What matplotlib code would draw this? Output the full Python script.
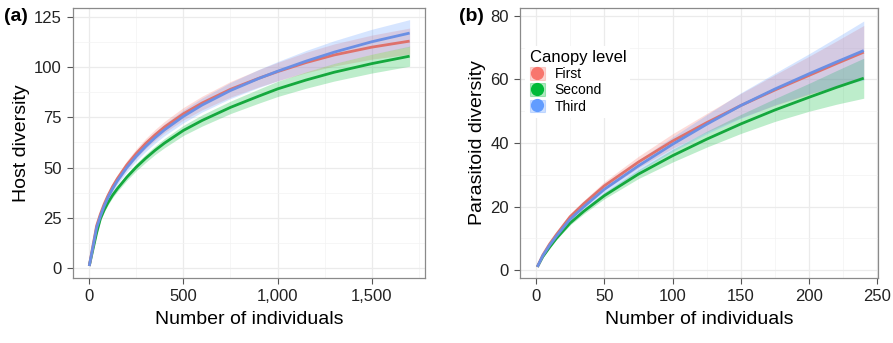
import matplotlib
matplotlib.use("Agg")
import matplotlib.pyplot as plt
from matplotlib.patches import Patch
from matplotlib.lines import Line2D
from matplotlib.ticker import FuncFormatter, MultipleLocator
import numpy as np

plt.rcParams['font.family'] = ['Liberation Sans', 'DejaVu Sans']

levels = ["First", "Second", "Third"]
fill_colors = {"First": "#F8766D", "Second": "#00BA38", "Third": "#619CFF"}
line_colors = {"First": "#DE716B", "Second": "#14A83D", "Third": "#6B8FE4"}

# Panel (a): host diversity (rarefaction curves) and CI half-widths
x_a = [1, 40, 60, 80, 100, 125, 150, 200, 250, 300, 350, 400, 500, 600, 750, 900, 1000, 1150, 1300, 1500, 1700]
host_first = [1, 21, 26.8, 31.8, 36, 40.6, 44.5, 51.3, 57, 62, 66.3, 70.2, 76.8, 82.2, 89, 94.5, 97.8, 102.3, 106.1, 110, 113]
host_second = [1, 17.5, 24.5, 28.9, 32.5, 36.3, 39.5, 45.2, 50.2, 54.6, 58.6, 62.2, 68.5, 73.5, 80, 85.6, 89.2, 93.6, 97.5, 101.8, 105.5]
host_third = [1, 20, 25.8, 30.8, 35, 39.5, 43.4, 50, 55.6, 60.5, 64.9, 68.8, 75.5, 81.2, 88.4, 94.4, 98, 103, 107.5, 112.7, 117]
host_first_hw = [0, 1, 1.2, 1.4, 1.5, 1.7, 1.9, 2.1, 2.3, 2.5, 2.7, 2.8, 3.1, 3.4, 3.9, 4.3, 4.6, 5.1, 5.5, 6, 6.5]
host_second_hw = [0, 0.8, 0.9, 1, 1.1, 1.2, 1.4, 1.6, 1.8, 2, 2.1, 2.3, 2.5, 2.8, 3.1, 3.5, 3.8, 4.1, 4.4, 4.7, 5]
host_third_hw = [0, 1, 1.2, 1.4, 1.5, 1.7, 1.9, 2.1, 2.3, 2.5, 2.7, 2.9, 3.2, 3.5, 4, 4.5, 4.8, 5.3, 5.7, 6.2, 6.7]

# Panel (b): parasitoid diversity and CI half-widths
x_b = [1, 5, 10, 15, 25, 35, 50, 75, 100, 125, 150, 175, 200, 220, 240]
para_first = [1, 4.7, 8.2, 11.2, 16.8, 20.9, 26.5, 34, 40.6, 46.4, 51.8, 56.7, 61.3, 65, 68.6]
para_second = [1, 4.2, 7.2, 10, 14.8, 18.5, 23.4, 30.2, 36, 41.2, 46, 50.4, 54.4, 57.5, 60.4]
para_third = [1, 4.5, 7.8, 10.7, 16, 19.9, 25.4, 32.8, 39.6, 45.9, 51.8, 57, 61.8, 65.5, 69.1]
para_first_hw = [0, 0.2, 0.4, 0.55, 0.8, 1, 1.3, 1.8, 2.3, 2.9, 3.8, 4.8, 6, 7.1, 8.4]
para_second_hw = [0, 0.15, 0.3, 0.4, 0.6, 0.8, 1, 1.4, 2, 2.5, 3, 3.6, 4.4, 5.3, 6.3]
para_third_hw = [0, 0.2, 0.4, 0.55, 0.8, 1, 1.3, 1.8, 2.3, 3, 4, 5, 6.3, 7.7, 9.3]

host = {"First": (host_first, host_first_hw),
        "Second": (host_second, host_second_hw),
        "Third": (host_third, host_third_hw)}
para = {"First": (para_first, para_first_hw),
        "Second": (para_second, para_second_hw),
        "Third": (para_third, para_third_hw)}

fig = plt.figure(figsize=(8.93, 3.43), dpi=100)
ax1 = fig.add_axes([0.0818, 0.1895, 0.394, 0.7872])
ax2 = fig.add_axes([0.5823, 0.1895, 0.401, 0.7872])

def style(ax):
    ax.set_facecolor("white")
    for s in ax.spines.values():
        s.set_color("#8a8a8a")
        s.set_linewidth(0.9)
    ax.grid(True, which="major", color="#EBEBEB", linewidth=0.9)
    ax.grid(True, which="minor", color="#F3F3F3", linewidth=0.5)
    ax.set_axisbelow(True)
    ax.tick_params(which="major", direction="out", length=4, width=0.8,
                   color="#555555", labelsize=12, labelcolor="#222222", pad=4)
    ax.tick_params(which="minor", length=0)

def draw(ax, x, data):
    for lv in levels:
        y, hw = data[lv]
        y = np.asarray(y, float)
        hw = np.asarray(hw, float)
        ax.fill_between(x, y - hw, y + hw, color=fill_colors[lv], alpha=0.26, linewidth=0)
    for lv in ["Second", "First", "Third"]:
        y, hw = data[lv]
        ax.plot(x, y, color=line_colors[lv], linewidth=2.0, solid_capstyle="butt",
                solid_joinstyle="round")

style(ax1)
draw(ax1, x_a, host)
ax1.set_xlim(-85, 1781)
ax1.set_ylim(-5, 129.5)
ax1.xaxis.set_major_locator(MultipleLocator(500))
ax1.xaxis.set_minor_locator(MultipleLocator(250))
ax1.yaxis.set_major_locator(MultipleLocator(25))
ax1.yaxis.set_minor_locator(MultipleLocator(12.5))
ax1.xaxis.set_major_formatter(FuncFormatter(lambda v, p: f"{int(v):,}"))
ax1.set_xlabel("Number of individuals", fontsize=14, labelpad=5)
ax1.set_ylabel("Host diversity", fontsize=14, labelpad=3)

style(ax2)
draw(ax2, x_b, para)
ax2.set_xlim(-11.7, 250.5)
ax2.set_ylim(-2.5, 82.5)
ax2.xaxis.set_major_locator(MultipleLocator(50))
ax2.xaxis.set_minor_locator(MultipleLocator(25))
ax2.yaxis.set_major_locator(MultipleLocator(20))
ax2.yaxis.set_minor_locator(MultipleLocator(10))
ax2.set_xlabel("Number of individuals", fontsize=14, labelpad=5)
ax2.set_ylabel("Parasitoid diversity", fontsize=14, labelpad=3)

handles = []
for lv in levels:
    patch = Patch(facecolor=fill_colors[lv], alpha=0.3, edgecolor=fill_colors[lv], linewidth=0.8)
    dot = Line2D([], [], marker="o", linestyle="", color=fill_colors[lv], markersize=8.5)
    handles.append((patch, dot))
leg = ax2.legend(handles, levels, title="Canopy level", loc="upper left",
                 bbox_to_anchor=(0.015, 0.86), fontsize=10, title_fontsize=12,
                 frameon=True, framealpha=1, facecolor="white", edgecolor="none",
                 handlelength=1.1, handleheight=1.05, handletextpad=0.7,
                 labelspacing=0.15, borderpad=0.3, borderaxespad=0)
leg._legend_box.align = "left"

fig.text(0.004, 0.94, "(a)", fontsize=14, fontweight="bold")
fig.text(0.514, 0.94, "(b)", fontsize=14, fontweight="bold")

fig.savefig("out.png", dpi=100)
